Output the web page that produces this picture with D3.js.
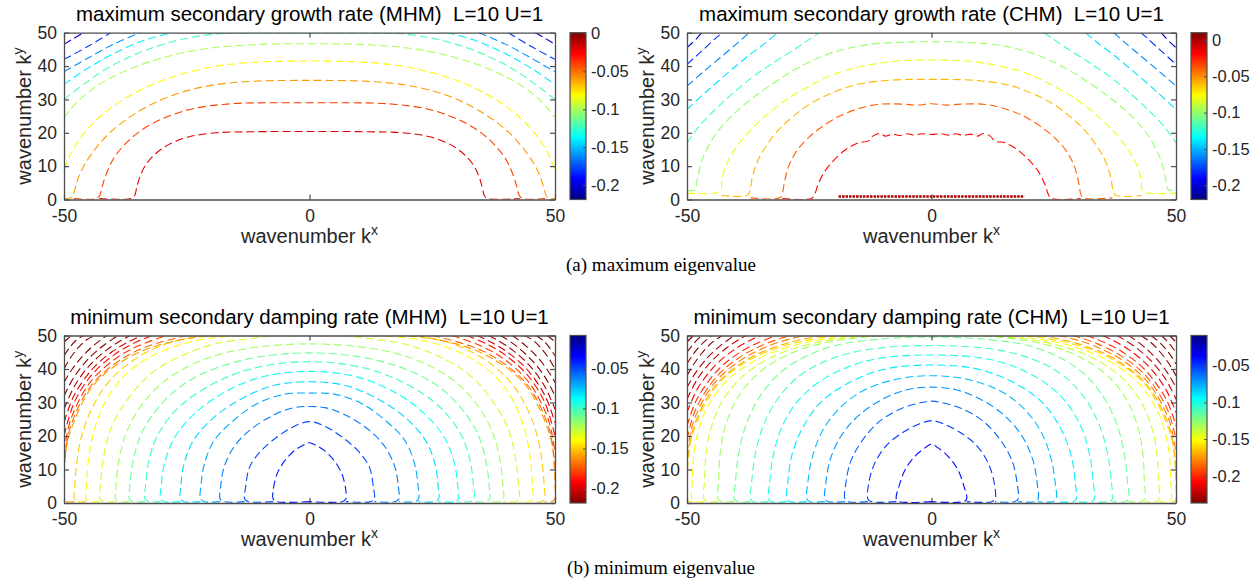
<!DOCTYPE html>
<html>
<head>
<meta charset="utf-8">
<script src="https://cdn.jsdelivr.net/npm/d3@7"></script>
<style>
  body { margin: 0; background: #fff; }
  svg { display: block; }
  text { white-space: pre; }
</style>
</head>
<body>
<svg id="fig" width="1253" height="580"></svg>
<script>
// ---- axis ticks and labels ----
const kxTicks = [-50, 0, 50];
const kyTicks = [0, 10, 20, 30, 40, 50];
const cbarTicks = [0, -0.05, -0.1, -0.15, -0.2];
const cbarTickLabels = ["0", "-0.05", "-0.1", "-0.15", "-0.2"];

const titles = [
  "maximum secondary growth rate (MHM)  L=10 U=1",
  "maximum secondary growth rate (CHM)  L=10 U=1",
  "minimum secondary damping rate (MHM)  L=10 U=1",
  "minimum secondary damping rate (CHM)  L=10 U=1"
];
const captions = ["(a) maximum eigenvalue", "(b) minimum eigenvalue"];

// colour ranges of the four colorbars [low, high]
const cbarRangeMaxMHM = [-0.219, 0.001];
const cbarRangeMaxCHM = [-0.2196, 0.010];
const cbarRangeMinMHM = [-0.218, -0.009];
const cbarRangeMinCHM = [-0.237, -0.009];

// ---- contour levels and lines (kx <= 0 half; the field is symmetric in kx) ----
const levelsMaxMHM = [-0.02, -0.04, -0.06, -0.08, -0.10, -0.12, -0.14, -0.16, -0.18, -0.20];
const contoursMaxMHM = [
  [[-42.8,0.3],[-36.3,0.3],[-35.6,1.2],[-35.2,3.5],[-34.5,7],[-33.3,10.5],[-31.3,13.8],[-28.5,16.6],[-24.5,18.8],[-19,20],[-12,20.3],[0,20.4]],
  [[-48,0.3],[-43.4,0.3],[-42.7,1.3],[-42.2,4],[-41.3,8],[-39.8,12.5],[-37.3,17],[-34,21],[-29.5,24.5],[-23.5,27.3],[-16,28.7],[-8,29],[0,29]],
  [[-50,0.3],[-48.5,0.6],[-47.9,2.5],[-47.2,6],[-45.8,10.5],[-43.7,15],[-40.8,19.8],[-37,24.3],[-32.5,28.3],[-27,31.7],[-20,34.2],[-12,35.4],[0,35.7]],
  [[-50,9],[-49,12.5],[-47.3,17],[-44.8,21.8],[-41.3,26.5],[-37,30.8],[-31.5,34.8],[-25,38],[-17.5,40.3],[-9,41.3],[0,41.5]],
  [[-50,24.5],[-47.8,28.5],[-44.5,32.8],[-40,36.8],[-34.5,40.3],[-27.5,43.4],[-19.5,45.5],[-10,46.5],[0,46.7]],
  [[-50,30],[-46,34.5],[-41,39.5],[-35,43.8],[-28,47.3],[-20,49.5],[-10,50],[0,50]],
  [[-50,34.5],[-45,39.5],[-39.5,44],[-33.5,47.8],[-28,50]],
  [[-50,38.3],[-45,42.5],[-40,46.5],[-34.5,50]],
  [[-50,42],[-45,46],[-40.5,50]],
  [[-50,46.5],[-48,48.3],[-46,50]]
];

const levelsMaxCHM = [0, -0.02, -0.04, -0.06, -0.08, -0.10, -0.12, -0.14, -0.16, -0.18, -0.20];
const contoursMaxCHM = [
  [[-19,0.9],[0,0.9]],
  [[-30.5,0.3],[-24.5,0.3],[-23.9,1.5],[-23.2,4.5],[-21.8,8.5],[-19.8,12],[-17.5,15],[-15,17],[-13,17.5],[-12,19],[-10.5,19.8],[-9.5,19],[-8,19.6],[-6.5,19.2],[-5,19.7],[-3.5,19.3],[-2,19.7],[0,19.5]],
  [[-37,0.5],[-31,0.5],[-30.5,1.8],[-30.1,5],[-29.2,10],[-27.6,14.5],[-25.2,18.5],[-22.2,22],[-18.8,25],[-15,27.2],[-11,28.5],[-6,28.6],[-3,28.3],[0,28.7]],
  [[-43,1.2],[-37.6,1.3],[-37.1,3],[-36.6,7],[-35.4,12],[-33.6,16.5],[-31.2,21],[-28.2,25],[-24.7,28.8],[-20.6,31.8],[-16,34.2],[-10,35.6],[-4,36],[0,36]],
  [[-50,1.9],[-44,2],[-43.1,3],[-42.8,6.5],[-41.6,11.5],[-39.6,16.3],[-37,20.8],[-33.6,25.5],[-29.6,30],[-25,34],[-20,37.5],[-14,40],[-7,41.5],[0,41.8]],
  [[-50,2.7],[-48.4,3],[-47.9,6],[-47.1,11],[-45.6,16],[-43.4,21],[-40.2,26],[-36.5,30.5],[-32.2,35],[-27.2,39.5],[-21.3,43.5],[-14,46.2],[-7,47.1],[0,47.3]],
  [[-50,17],[-47.5,22],[-44.2,27],[-40.5,32],[-36.3,37],[-31.8,41.5],[-27.5,45.5],[-24.5,48.5],[-23,50]],
  [[-50,27],[-46.3,32],[-42,37.5],[-37.5,43],[-33.5,47.5],[-31.5,50]],
  [[-50,34],[-46.5,38.5],[-42.8,43],[-39.2,47.5],[-37.3,50]],
  [[-50,40.5],[-47,44.5],[-44,48.5],[-42.8,50]],
  [[-50,45.5],[-48,48.3],[-47,50]]
];

// levels below the colorbar's lower end take its darkest colour
const levelsMinMHM = [-0.04, -0.05, -0.06, -0.07, -0.08, -0.09, -0.10, -0.11, -0.12, -0.13, -0.14, -0.15,
                      -0.16, -0.17, -0.18, -0.19, -0.20, -0.21, -0.22, -0.23, -0.24, -0.25, -0.26];
const contoursMinMHM = [
  [[0,0.4],[-6.6,0.4],[-7.4,1.2],[-7.4,3.8],[-6.6,8.7],[-5,12.7],[-3,15.7],[-1.2,17.3],[0,18]],
  [[-7.4,0.4],[-12.4,0.4],[-13.2,1.2],[-13,4.8],[-12.2,10.7],[-9.8,15.7],[-6.6,19.7],[-3.4,22.7],[0,24.3]],
  [[-13.2,0.4],[-17.4,0.4],[-18.2,1.2],[-18.1,4.8],[-17.4,10.7],[-15.4,16.7],[-12.2,21.7],[-7.4,26.2],[-3.4,28.4],[0,28.8]],
  [[-18.2,0.4],[-21.4,0.4],[-22.2,1.2],[-22.1,5.3],[-21.4,11.7],[-19.4,18.7],[-15.4,24.7],[-10.6,29.7],[-5,32.5],[0,32.8]],
  [[-22.2,0.4],[-25.5,0.4],[-26.3,1.2],[-26.2,5],[-25.5,12],[-23.5,19],[-19.5,25.5],[-14,31],[-7.5,35],[0,36.2]],
  [[-26.3,0.4],[-29.5,0.4],[-30.3,1.2],[-30.2,5],[-29.5,12],[-27.5,19.5],[-23.5,26.5],[-18,32.5],[-10,37.5],[0,39.3]],
  [[-30.3,0.4],[-32.7,0.4],[-33.5,1.2],[-33.4,5],[-32.8,12],[-31,20],[-27,28],[-21,34.5],[-12,40],[0,42.2]],
  [[-33.5,0.4],[-35.9,0.4],[-36.7,1.2],[-36.6,5],[-36,12],[-34.3,20.5],[-30.5,29],[-24.5,36.5],[-14,42.5],[0,44.8]],
  [[-36.7,0.4],[-38.7,0.4],[-39.5,1.2],[-39.4,5],[-38.9,12],[-37.3,21],[-33.8,30],[-28,38],[-18,44.5],[0,47.5]],
  [[-39.5,0.4],[-41.9,0.4],[-42.7,1.2],[-42.6,5],[-42,13],[-40.5,22],[-37,31],[-31.5,39.5],[-21,46.8],[-11,49.3],[-6.6,50]],
  [[-42.7,0.4],[-44.7,0.4],[-45.5,1.2],[-45.4,5],[-45,13],[-43.8,22],[-41.3,31],[-37,39],[-30.5,45],[-22,48.8],[-13,50]],
  [[-45.5,0.4],[-47.2,0.4],[-47.9,1.2],[-47.8,5],[-47.4,12],[-46.4,20],[-44.4,28],[-41,36],[-35.5,43],[-27.5,48.3],[-17.8,50]],
  [[-47.9,0.4],[-49.6,0.5],[-50.1,2],[-50,5],[-49.8,12],[-49.0,20],[-44.1,35],[-37.36,43],[-31.0,47],[-21.8,50]],
  [[-50,10],[-48.84,22],[-44.49,35],[-38.22,43],[-32.5,47],[-25,50]],
  [[-50,15],[-48.61,25],[-44.68,36],[-39.58,43],[-34.74,47],[-29,50]],
  [[-50,20],[-47.92,30],[-44.49,38],[-40.03,44],[-36.05,47.5],[-32,50]],
  [[-50,24],[-47.98,32],[-44.23,40],[-40.34,45],[-37.01,48],[-34.1,50]],
  [[-50,28],[-47.83,35],[-44.84,41],[-41.49,45.5],[-38.41,48.5],[-36.5,50]],
  [[-50,32],[-48.0,37.5],[-45.37,42.5],[-42.43,46.5],[-40.04,49],[-38.9,50]],
  [[-50,36],[-48.32,40],[-46.12,44],[-43.99,47],[-42.26,49],[-41.3,50]],
  [[-50,40],[-48.6,43.5],[-47,46.5],[-45.3,48.8],[-43.7,50]],
  [[-50,44],[-48.9,46.3],[-47.6,48.5],[-46.1,50]],
  [[-50,48],[-49.2,49.1],[-48.4,50]]
];

const levelsMinCHM = [-0.04, -0.05, -0.06, -0.07, -0.08, -0.09, -0.10, -0.11, -0.12, -0.13, -0.14, -0.15,
                      -0.16, -0.17, -0.18, -0.19, -0.20, -0.21, -0.22, -0.23, -0.24, -0.25, -0.26, -0.27];
const contoursMinCHM = [
  [[0,0.4],[-6.5,0.4],[-7.2,1.2],[-6.6,5.2],[-5.3,10.2],[-3.3,14.1],[-1.2,16.6],[0,17.6]],
  [[-7.2,0.4],[-12.3,0.4],[-13,1.2],[-12.8,6.2],[-11.5,12.2],[-9,17.5],[-5.8,21.1],[-2.5,23.6],[0,24.6]],
  [[-13,0.4],[-17,0.4],[-17.7,1.2],[-17.5,6],[-16.5,12.5],[-14,19],[-10.5,24.5],[-6,28.3],[-2,30],[0,30.4]],
  [[-17.7,0.4],[-21.1,0.4],[-21.8,1.2],[-21.6,6],[-20.7,13],[-18.5,20],[-15,26],[-10,31],[-5,33.8],[0,34.6]],
  [[-21.8,0.4],[-24.8,0.4],[-25.5,1.2],[-25.3,6],[-24.5,13],[-22.5,21],[-19,28],[-14,33.5],[-7,37],[0,38]],
  [[-25.5,0.4],[-28.9,0.4],[-29.6,1.2],[-29.4,6],[-28.6,14],[-26.5,22],[-23,29.5],[-18,35],[-10,39.8],[0,41.2]],
  [[-29.6,0.4],[-32.6,0.4],[-33.3,1.2],[-33.1,6],[-32.4,14],[-30.5,23],[-27,31],[-21.5,37.5],[-13,42.5],[0,44.2]],
  [[-33.3,0.4],[-36.3,0.4],[-37,1.2],[-36.8,6],[-36.1,14],[-34.4,23],[-31,32],[-25.5,39.5],[-16,45],[0,47]],
  [[-37,0.4],[-39.6,0.4],[-40.3,1.2],[-40.1,6],[-39.5,14],[-38,23],[-35,32],[-30,40],[-21,46.5],[-10,49],[0,49.5]],
  [[-40.3,0.4],[-42.9,0.4],[-43.6,1.2],[-43.5,7],[-43.28,14],[-42.14,23],[-39.41,32],[-34.35,40],[-25.82,46.3],[-13.84,49.5],[-5.8,50]],
  [[-43.6,0.4],[-45.8,0.4],[-46.5,1.2],[-46.4,7],[-46.16,14],[-45.16,22],[-42.93,30],[-38.47,38],[-31.24,44.5],[-21.45,48.5],[-10.7,50]],
  [[-46.5,0.4],[-48.3,0.4],[-49,1.2],[-48.9,7],[-48.72,13],[-47.96,20],[-46.03,28],[-42.2,36],[-35.5,43],[-28.27,47],[-21.5,49],[-14.8,50]],
  [[-49,0.4],[-49.8,0.5],[-50.1,2],[-50,5],[-49.8,12],[-48.98,20],[-43.89,35],[-36.82,43],[-29.96,47],[-24.0,49],[-19,50]],
  [[-50,10],[-48.78,22],[-44.21,35],[-37.47,43],[-31.14,47],[-25.93,49],[-22,50]],
  [[-50,15],[-48.51,25],[-44.27,36],[-38.65,43],[-33.1,47],[-28.85,49],[-26,50]],
  [[-50,19],[-48.22,28],[-43.78,38],[-38.71,44],[-33.96,47.5],[-30.5,49.3],[-28.8,50]],
  [[-50,23],[-47.98,31],[-43.49,40],[-39.12,45],[-35.24,48],[-31.7,50]],
  [[-50,27],[-47.89,34],[-44.28,41],[-40.62,45.5],[-37.2,48.5],[-35,50]],
  [[-50,31],[-47.86,37],[-44.86,42.5],[-41.72,46.5],[-39.13,49],[-37.9,50]],
  [[-50,34.5],[-48.2,39],[-45.73,43.5],[-43.16,47],[-41.33,49],[-40.3,50]],
  [[-50,38],[-48.5,41.7],[-46.8,45],[-44.8,48],[-42.8,50]],
  [[-50,41.5],[-48.8,44.3],[-47.4,46.8],[-46.1,48.6],[-44.9,50]],
  [[-50,45],[-49,46.9],[-48,48.6],[-47,50]],
  [[-50,48],[-49.3,49.1],[-48.6,50]]
];

// ---- page layout ----
const FONT = "'Liberation Sans', Arial, Helvetica, sans-serif";
const SERIF = "'Liberation Serif', 'DejaVu Serif', serif";
const AXIS_COLOR = "#4d4d4d";
const TEXT_COLOR = "#262626";

const panels = [
  { title: titles[0], levels: levelsMaxMHM, lines: contoursMaxMHM, range: cbarRangeMaxMHM, flip: false,
    x0: 64, x1: 555, y0: 32.7, y1: 199.5, cbX: 570 },
  { title: titles[1], levels: levelsMaxCHM, lines: contoursMaxCHM, range: cbarRangeMaxCHM, flip: false,
    x0: 687, x1: 1176, y0: 32.7, y1: 199.5, cbX: 1191 },
  { title: titles[2], levels: levelsMinMHM, lines: contoursMinMHM, range: cbarRangeMinMHM, flip: true,
    x0: 64, x1: 555, y0: 335.5, y1: 503, cbX: 570 },
  { title: titles[3], levels: levelsMinCHM, lines: contoursMinCHM, range: cbarRangeMinCHM, flip: true,
    x0: 687, x1: 1176, y0: 335.5, y1: 503, cbX: 1191 }
];

const svg = d3.select("#fig");
const defs = svg.append("defs");

// MATLAB-style jet colormap, t in [0,1]
function jet(t) {
  t = Math.max(0, Math.min(1, t));
  const c = v => Math.round(255 * Math.max(0, Math.min(1, v)));
  return d3.rgb(c(1.5 - Math.abs(4 * t - 3)), c(1.5 - Math.abs(4 * t - 2)), c(1.5 - Math.abs(4 * t - 1))).formatHex();
}

function drawPanel(p, i) {
  const g = svg.append("g");
  const x = d3.scaleLinear().domain([-50, 50]).range([p.x0, p.x1]);
  const y = d3.scaleLinear().domain([0, 50]).range([p.y1, p.y0]);
  const [lo, hi] = p.range;
  const colorOf = v => p.flip ? jet((hi - v) / (hi - lo)) : jet((v - lo) / (hi - lo));

  defs.append("clipPath").attr("id", "clip" + i)
    .append("rect").attr("x", p.x0).attr("y", p.y0)
    .attr("width", p.x1 - p.x0).attr("height", p.y1 - p.y0);

  const line = d3.line().x(d => x(d[0])).y(d => y(d[1])).curve(d3.curveCatmullRom.alpha(0.5));
  const cg = g.append("g").attr("clip-path", `url(#clip${i})`);

  p.lines.forEach((half, k) => {
    const lev = p.levels[k];
    const mirror = half.map(([a, b]) => [-a, b]).reverse();
    const pieces = half[half.length - 1][0] === 0 ? [half.concat(mirror.slice(1))] : [half, mirror];
    pieces.forEach(pts => {
      const path = cg.append("path")
        .attr("d", line(pts))
        .attr("fill", "none")
        .attr("stroke", colorOf(lev));
      if (lev >= 0) {
        path.attr("stroke-width", 2.6).attr("stroke-dasharray", "2.5,1");
      } else {
        path.attr("stroke-width", 1.1).attr("stroke-dasharray", "8,4");
      }
    });
  });

  // axes with inward ticks on all four sides
  const styleAxis = sel => {
    sel.select(".domain").attr("stroke", AXIS_COLOR).attr("stroke-width", 1.3);
    sel.selectAll(".tick line").attr("stroke", AXIS_COLOR).attr("stroke-width", 1.2);
    sel.selectAll("text").attr("fill", TEXT_COLOR).attr("font-family", FONT).attr("font-size", 17.5);
  };
  g.append("g").attr("transform", `translate(0,${p.y1})`)
    .call(d3.axisBottom(x).tickValues(kxTicks).tickSize(-5).tickSizeOuter(0).tickPadding(10).tickFormat(d => String(d)))
    .call(styleAxis);
  g.append("g").attr("transform", `translate(0,${p.y0})`)
    .call(d3.axisTop(x).tickValues(kxTicks).tickSize(-5).tickSizeOuter(0).tickFormat(""))
    .call(styleAxis);
  g.append("g").attr("transform", `translate(${p.x0},0)`)
    .call(d3.axisLeft(y).tickValues(kyTicks).tickSize(-5).tickSizeOuter(0).tickPadding(7).tickFormat(d => String(d)))
    .call(styleAxis);
  g.append("g").attr("transform", `translate(${p.x1},0)`)
    .call(d3.axisRight(y).tickValues(kyTicks).tickSize(-5).tickSizeOuter(0).tickFormat(""))
    .call(styleAxis);

  // title
  g.append("text")
    .attr("x", (p.x0 + p.x1) / 2).attr("y", p.y0 - 12)
    .attr("text-anchor", "middle").attr("font-family", FONT).attr("font-size", 20.5)
    .attr("fill", "#000").text(p.title);

  // x label
  const xl = g.append("text")
    .attr("x", (p.x0 + p.x1) / 2).attr("y", p.y1 + 43)
    .attr("text-anchor", "middle").attr("font-family", FONT).attr("font-size", 20)
    .attr("fill", TEXT_COLOR);
  xl.append("tspan").text("wavenumber k");
  xl.append("tspan").attr("font-size", 14).attr("dy", -8).text("x");

  // y label
  const cy = (p.y0 + p.y1) / 2;
  const yl = g.append("text")
    .attr("transform", `translate(${p.x0 - 33},${cy}) rotate(-90)`)
    .attr("text-anchor", "middle").attr("font-family", FONT).attr("font-size", 20)
    .attr("fill", TEXT_COLOR);
  yl.append("tspan").text("wavenumber k");
  yl.append("tspan").attr("font-size", 14).attr("dy", -8).text("y");

  // colorbar
  const gid = "grad" + i;
  const grad = defs.append("linearGradient").attr("id", gid)
    .attr("x1", 0).attr("y1", 1).attr("x2", 0).attr("y2", 0);
  d3.range(0, 65).forEach(s => {
    const t = s / 64;
    grad.append("stop").attr("offset", t).attr("stop-color", p.flip ? jet(1 - t) : jet(t));
  });
  const cbW = 16;
  g.append("rect").attr("x", p.cbX).attr("y", p.y0).attr("width", cbW).attr("height", p.y1 - p.y0)
    .attr("fill", `url(#${gid})`).attr("stroke", AXIS_COLOR).attr("stroke-width", 1.2);
  const yc = d3.scaleLinear().domain(p.range).range([p.y1, p.y0]);
  const shown = cbarTicks.map((v, j) => [v, cbarTickLabels[j]]).filter(([v]) => v >= lo && v <= hi);
  const cax = g.append("g").attr("transform", `translate(${p.cbX + cbW},0)`)
    .call(d3.axisRight(yc).tickValues(shown.map(d => d[0])).tickSize(-3).tickSizeOuter(0).tickPadding(5)
      .tickFormat(v => shown.find(d => d[0] === v)[1]));
  cax.select(".domain").remove();
  cax.selectAll(".tick line").attr("stroke", AXIS_COLOR);
  cax.selectAll("text").attr("fill", TEXT_COLOR).attr("font-family", FONT).attr("font-size", 16.5);
}

panels.forEach(drawPanel);

// sub-figure captions
svg.append("text").attr("x", 661).attr("y", 271).attr("text-anchor", "middle")
  .attr("font-family", SERIF).attr("font-size", 19).attr("fill", "#000").text(captions[0]);
svg.append("text").attr("x", 661).attr("y", 574).attr("text-anchor", "middle")
  .attr("font-family", SERIF).attr("font-size", 19).attr("fill", "#000").text(captions[1]);
</script>
</body>
</html>
